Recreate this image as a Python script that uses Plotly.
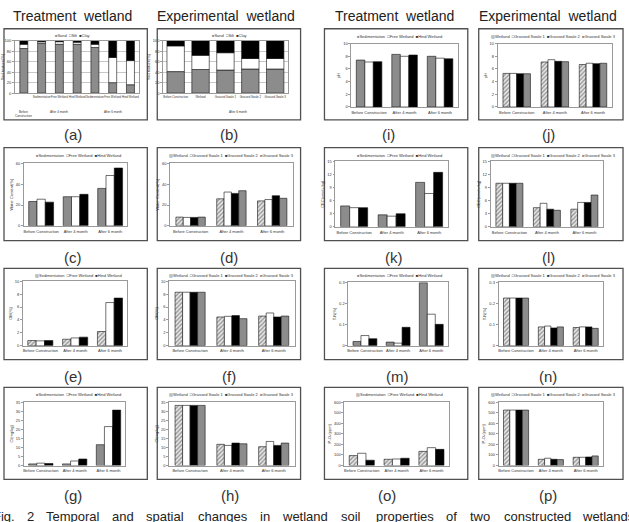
import plotly.graph_objects as go

W, H = 629, 522
FONT = "Liberation Sans, Arial, sans-serif"

# ---------------- data ----------------
periods = ["Before Construction", "After 4 month", "After 6 month"]
treat_names = ["Sedimentation", "Free Wetland", "Hind Wetland"]
exp_names = ["Wetland", "Grassed Swale 1", "Grassed Swale 2", "Grassed Swale 3"]
texture_names = ["Sand", "Silt", "Clay"]

# (a) soil texture, treatment wetland
a_bars = ["", "Sedimentation", "Free Wetland", "Hind Wetland", "Sedimentation", "Free Wetland", "Hind Wetland"]
a_groups = ["Before<br>Construction", "After 4 month", "After 4 month", "After 4 month",
            "After 6 month", "After 6 month", "After 6 month"]
a_sand = [85, 95, 93, 93, 87, 20, 16]
a_silt = [8, 3, 5, 4, 6, 48, 46]
a_clay = [7, 2, 2, 3, 7, 32, 38]

# (b) soil texture, experimental wetland
b_bars = ["Before Construction", "Wetland", "Grassed Swale 1", "Grassed Swale 2", "Grassed Swale 3"]
b_groups = ["", "After 6 month", "After 6 month", "After 6 month", "After 6 month"]
b_sand = [41, 45, 44, 46, 46]
b_silt = [49, 27, 33, 20, 20]
b_clay = [10, 28, 23, 34, 34]

# treatment wetland (Sedimentation, Free Wetland, Hind Wetland)
c_sed = [23.4, 28, 36];       c_free = [25.6, 28, 48.4];     c_hind = [22.8, 30.3, 55.6]
e_sed = [0.8, 1.0, 2.2];      e_free = [0.75, 1.2, 6.7];     e_hind = [0.8, 1.33, 7.4]
g_sed = [0.9, 0.9, 11.5];     g_free = [1.3, 2.5, 21.5];     g_hind = [1.1, 3.6, 30.6]
i_sed = [7.4, 8.3, 8.0];      i_free = [7.1, 8.0, 7.7];      i_hind = [7.15, 8.2, 7.6]
k_sed = [4.8, 2.75, 10.2];    k_free = [4.4, 2.45, 7.65];    k_hind = [4.4, 3.0, 12.5]
m_sed = [0.02, 0.017, 0.298]; m_free = [0.048, 0.012, 0.149]; m_hind = [0.033, 0.087, 0.101]
o_sed = [94, 59, 134];        o_free = [116, 62, 169];       o_hind = [50, 69, 153]

# experimental wetland (Wetland, Grassed Swale 1, 2, 3)
d_wet = [8.4, 26, 24];     d_gs1 = [8.1, 32.5, 25.3];  d_gs2 = [8.1, 31.2, 29];   d_gs3 = [8.4, 33.8, 26.5]
f_wet = [8.3, 4.46, 4.6];  f_gs1 = [8.3, 4.56, 5.08];  f_gs2 = [8.3, 4.67, 4.46]; f_gs3 = [8.3, 4.2, 4.6]
h_wet = [33.2, 11.7, 10.4]; h_gs1 = [33.2, 11.1, 13.3]; h_gs2 = [33.2, 12.4, 11.1]; h_gs3 = [33.2, 12.0, 12.4]
j_wet = [5.3, 7.1, 6.7];   j_gs1 = [5.3, 7.46, 6.9];   j_gs2 = [5.25, 7.2, 6.84]; j_gs3 = [5.25, 7.15, 6.9]
l_wet = [10.0, 4.4, 4.05]; l_gs1 = [10.0, 5.4, 5.6];   l_gs2 = [10.0, 4.05, 5.6]; l_gs3 = [10.0, 3.8, 7.3]
n_wet = [0.2255, 0.089, 0.086]; n_gs1 = [0.2255, 0.093, 0.089]; n_gs2 = [0.2255, 0.084, 0.089]; n_gs3 = [0.2255, 0.089, 0.082]
p_wet = [525, 59, 78];     p_gs1 = [525, 69, 78];      p_gs2 = [525, 59, 81];     p_gs3 = [525, 56, 91]

# caption words (justified line, clipped by the image edges as in the reference)
caption_words = ["Fig.", "2", "Temporal", "and", "spatial", "changes", "in", "wetland", "soil",
                 "properties", "of", "two", "constructed", "wetlands"]

# ---------------- styles ----------------
GRAY = "#8c8c8c"
def solid(c):
    return dict(color=c, line=dict(color="#111", width=0.6))
HATCH = dict(color="white", pattern=dict(shape="/", fgcolor="#444", bgcolor="#e8e8e8", size=3, solidity=0.45),
             line=dict(color="#111", width=0.6))
STYLE = {"gray": solid(GRAY), "white": solid("white"), "black": solid("black"), "hatch": HATCH}
SYM = {"gray": f'<span style="color:{GRAY}">■</span>', "white": "□", "black": "■",
       "hatch": '<span style="color:#666">▨</span>'}

# panel specs: letter, series (name, values, style), ymax, dtick, ytitle, plot px box, col, row
panels = [
    ("c", [(treat_names[0], c_sed, "gray"), (treat_names[1], c_free, "white"), (treat_names[2], c_hind, "black")],
     60, 20, "Water Content(%)", (21, 125, 162, 225), 0, 1),
    ("d", [(exp_names[0], d_wet, "hatch"), (exp_names[1], d_gs1, "white"), (exp_names[2], d_gs2, "black"), (exp_names[3], d_gs3, "gray")],
     60, 20, "Water Content(%)", (168, 291, 162, 225), 1, 1),
    ("e", [(treat_names[0], e_sed, "hatch"), (treat_names[1], e_free, "white"), (treat_names[2], e_hind, "black")],
     10, 2, "OM(%)", (20, 125, 281, 346), 0, 2),
    ("f", [(exp_names[0], f_wet, "hatch"), (exp_names[1], f_gs1, "white"), (exp_names[2], f_gs2, "black"), (exp_names[3], f_gs3, "gray")],
     10, 2, "OM(%)", (167, 293, 281, 346), 1, 2),
    ("g", [(treat_names[0], g_sed, "gray"), (treat_names[1], g_free, "white"), (treat_names[2], g_hind, "black")],
     35, 5, "Cl(mg/kg)", (21, 123, 403, 467), 0, 3),
    ("h", [(exp_names[0], h_wet, "hatch"), (exp_names[1], h_gs1, "white"), (exp_names[2], h_gs2, "black"), (exp_names[3], h_gs3, "gray")],
     35, 5, "Cl(mg/kg)", (167, 293, 403, 467), 1, 3),
    ("i", [(treat_names[0], i_sed, "gray"), (treat_names[1], i_free, "white"), (treat_names[2], i_hind, "black")],
     10, 2, "pH", (350, 457, 41, 105), 2, 0),
    ("j", [(exp_names[0], j_wet, "hatch"), (exp_names[1], j_gs1, "white"), (exp_names[2], j_gs2, "black"), (exp_names[3], j_gs3, "gray")],
     10, 2, "pH", (497, 612, 41, 105), 3, 0),
    ("k", [(treat_names[0], k_sed, "gray"), (treat_names[1], k_free, "white"), (treat_names[2], k_hind, "black")],
     15, 3, "CEC(cmol+/kg)", (334, 447, 160, 226), 2, 1),
    ("l", [(exp_names[0], l_wet, "hatch"), (exp_names[1], l_gs1, "white"), (exp_names[2], l_gs2, "black"), (exp_names[3], l_gs3, "gray")],
     15, 3, "CEC(cmol+/kg)", (490, 603, 160, 226), 3, 1),
    ("m", [(treat_names[0], m_sed, "gray"), (treat_names[1], m_free, "white"), (treat_names[2], m_hind, "black")],
     0.3, 0.1, "T-N(%)", (347, 447, 282, 346), 2, 2),
    ("n", [(exp_names[0], n_wet, "hatch"), (exp_names[1], n_gs1, "white"), (exp_names[2], n_gs2, "black"), (exp_names[3], n_gs3, "gray")],
     0.3, 0.1, "T-N(%)", (498, 603, 282, 346), 3, 2),
    ("o", [(treat_names[0], o_sed, "hatch"), (treat_names[1], o_free, "white"), (treat_names[2], o_hind, "black")],
     600, 100, "P₂O₅(ppm)", (343, 448, 403, 467), 2, 3),
    ("p", [(exp_names[0], p_wet, "hatch"), (exp_names[1], p_gs1, "white"), (exp_names[2], p_gs2, "black"), (exp_names[3], p_gs3, "gray")],
     600, 100, "P₂O₅(ppm)", (498, 603, 403, 467), 3, 3),
]

COL_BOX = [(1, 145), (155, 299), (323, 467), (478, 623)]
ROW_BOX = [(26, 118), (146, 240), (268, 360), (388, 481)]
LABEL_X = [[70, 227, 387, 548], [70, 227, 393, 548], [70, 227, 396, 548], [70, 228, 386, 548]]
LABEL_Y = [133, 257, 377, 497]
CAPTION_LEFT = [-12, 22, 41, 108, 142, 194, 256, 278, 338, 373, 443, 467, 501, 580]

def xd(x0, x1):
    return [x0 / W, x1 / W]

def yd(y0, y1):
    return [1 - y1 / H, 1 - y0 / H]

def px(x):
    return x / W

def py(y):
    return 1 - y / H

fig = go.Figure()
layout = dict(width=W, height=H, margin=dict(l=0, r=0, t=0, b=0), paper_bgcolor="white",
              plot_bgcolor="white", barmode="group", bargap=0.28, bargroupgap=0.0,
              showlegend=False, font=dict(family=FONT, color="#333"))
annotations = []
shapes = []

def axis_style(i, xdom, ydom, ymax, dtick, ytitle, grid=False):
    layout[f"xaxis{i}"] = dict(domain=xdom, anchor=f"y{i}", showline=True, linecolor="#9a9a9a",
                               linewidth=0.8, mirror=True, ticks="", showgrid=False, zeroline=False,
                               tickfont=dict(size=4, color="#333"), fixedrange=True, tickangle=0,
                               ticklabelstandoff=1)
    layout[f"yaxis{i}"] = dict(domain=ydom, anchor=f"x{i}", range=[0, ymax], dtick=dtick,
                               showline=True, linecolor="#9a9a9a", linewidth=0.8, mirror=True,
                               ticks="outside", ticklen=2, tickcolor="#9a9a9a", tickwidth=0.6,
                               showgrid=grid, gridcolor="#c8c8c8", gridwidth=0.6, zeroline=False,
                               tickfont=dict(size=4, color="#333"), fixedrange=True,
                               title=dict(text=ytitle, font=dict(size=4, color="#333"), standoff=2))

def legend_text(items):
    return "  ".join(SYM[s] + n for n, s in items)

def panel_box(col, row):
    x0, x1 = COL_BOX[col]
    y0, y1 = ROW_BOX[row]
    shapes.append(dict(type="rect", xref="paper", yref="paper", x0=px(x0), x1=px(x1), y0=py(y1), y1=py(y0),
                       line=dict(color="#505050", width=1.3), fillcolor="rgba(0,0,0,0)"))

def panel_label(letter, col, row):
    annotations.append(dict(text=f"({letter})", x=px(LABEL_X[row][col]), y=py(LABEL_Y[row]), xref="paper",
                            yref="paper", showarrow=False, xanchor="center", yanchor="middle",
                            font=dict(size=15, color="#333", family=FONT)))

# ---------- stacked texture panels (a), (b) ----------
texture_sets = [
    ("a", a_bars, a_groups, [a_sand, a_silt, a_clay], 0.45, (12, 137, 38, 91), 0, 70),
    ("b", b_bars, b_groups, [b_sand, b_silt, b_clay], 0.70, (161, 286, 38, 91), 1, 228),
]
idx = 0
for letter, bars, groups, stacks, bw, (x0, x1, y0, y1), col, legx in texture_sets:
    idx += 1
    pos = list(range(len(bars)))
    base = [0] * len(bars)
    for name, vals, st in zip(texture_names, stacks, ["gray", "white", "black"]):
        fig.add_trace(go.Bar(x=pos, y=vals, base=base, name=name, width=bw, offsetgroup="stack",
                             marker=STYLE[st], xaxis=f"x{idx}", yaxis=f"y{idx}"))
        base = [b + v for b, v in zip(base, vals)]
    axis_style(idx, xd(x0, x1), yd(y0, y1), 100, 20, "Soil texture(%)", grid=True)
    layout[f"xaxis{idx}"].update(tickmode="array", tickvals=pos, ticktext=bars, range=[-0.5, len(bars) - 0.5],
                                 tickfont=dict(size=2.8, color="#333"), tickangle=0)
    seen = []
    for g in groups:
        if g and g not in seen:
            seen.append(g)
    for g in seen:
        members = [p for p, gg in zip(pos, groups) if gg == g]
        annotations.append(dict(text=g, x=sum(members) / len(members), y=py(y1 + 15), xref=f"x{idx}",
                                yref="paper", showarrow=False, xanchor="center", yanchor="top",
                                font=dict(size=3, color="#333")))
    annotations.append(dict(text=legend_text(list(zip(texture_names, ["gray", "white", "black"]))),
                            x=px(legx), y=py(33), xref="paper", yref="paper", showarrow=False,
                            xanchor="center", yanchor="middle", font=dict(size=4, color="#333")))
    panel_box(col, 0)
    panel_label(letter, col, 0)

# ---------- grouped panels ----------
for letter, series, ymax, dtick, ytitle, (x0, x1, y0, y1), col, row in panels:
    idx += 1
    for name, vals, st in series:
        fig.add_trace(go.Bar(x=periods, y=vals, name=name, marker=STYLE[st],
                             xaxis=f"x{idx}", yaxis=f"y{idx}"))
    axis_style(idx, xd(x0, x1), yd(y0, y1), ymax, dtick, ytitle)
    box_top = ROW_BOX[row][0]
    annotations.append(dict(text=legend_text([(n, s) for n, _, s in series]),
                            x=(px(COL_BOX[col][0]) + px(COL_BOX[col][1])) / 2 + 3 / W, y=py(box_top + 7.5),
                            xref="paper", yref="paper", showarrow=False, xanchor="center", yanchor="middle",
                            font=dict(size=4, color="#333")))
    panel_box(col, row)
    panel_label(letter, col, row)

# ---------- headers ----------
headers = [("Treatment&nbsp; wetland", 70), ("Experimental&nbsp; wetland", 224),
           ("Treatment&nbsp; wetland", 393), ("Experimental&nbsp; wetland", 548)]
for t, x in headers:
    annotations.append(dict(text=t, x=px(x), y=py(13), xref="paper", yref="paper", showarrow=False,
                            xanchor="center", yanchor="middle", font=dict(size=14, color="#222", family=FONT)))

# ---------- caption ----------
CAP_Y = 509
for wtxt, xl in zip(caption_words, CAPTION_LEFT):
    annotations.append(dict(text=wtxt, x=px(xl), y=py(CAP_Y), xref="paper", yref="paper", showarrow=False,
                            xanchor="left", yanchor="top", font=dict(size=13, color="#222", family=FONT)))

layout["annotations"] = annotations
layout["shapes"] = shapes
fig.update_layout(**layout)
fig.write_html("out.html")
